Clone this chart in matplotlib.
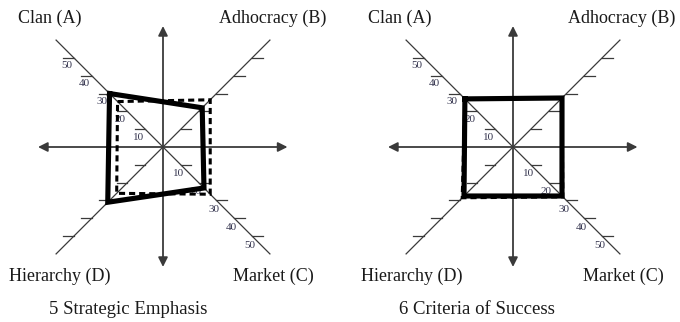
import numpy as np
import matplotlib
matplotlib.use("Agg")
import matplotlib.pyplot as plt

# ---- data ----
quadrants = ["Clan (A)", "Adhocracy (B)", "Market (C)", "Hierarchy (D)"]
angles_deg = [135, 45, -45, -135]          # direction of each quadrant axis
tick_values = [10, 20, 30, 40, 50]
tick_labels = ["10", "20", "30", "40", "50"]

titles = ["5 Strategic Emphasis", "6 Criteria of Success"]
# order: A, B, C, D
solid_emphasis = [30, 22, 23, 31]
dashed_emphasis = [25.5, 26.5, 26.5, 26]
solid_success = [27, 27.5, 27.5, 27.5]
dashed_success = [27, 27.5, 28, 28.5]

solid_sets = [solid_emphasis, solid_success]
dashed_sets = [dashed_emphasis, dashed_success]

# ---- styling ----
W, H = 680, 322
PX = 2.52               # pixels per value unit
AX_COL = "#3a3a3a"
NUM_COL = "#34344e"
SERIF = ["Liberation Serif", "DejaVu Serif"]

fig = plt.figure(figsize=(W / 100, H / 100), dpi=100)

centers_px = [(163, 147), (513, 147)]   # centers in pixel (from top-left)
panels = [(0, 340), (340, 680)]

ang = np.deg2rad(angles_deg)
ux, uy = np.cos(ang), np.sin(ang)

for p in range(2):
    x0, x1 = panels[p]
    cx, cy = centers_px[p]
    ax = fig.add_axes([x0 / W, 0, (x1 - x0) / W, 1])
    ax.set_xlim(-(cx - x0) / PX, (x1 - cx) / PX)
    ax.set_ylim(-(H - cy) / PX, cy / PX)
    ax.axis("off")

    # diagonals
    L = 60
    for k in range(2):
        ax.plot([ux[k] * L, ux[k + 2] * L], [uy[k] * L, uy[k + 2] * L],
                color=AX_COL, lw=0.9, zorder=1)
    # main arrows
    arrow = dict(arrowstyle="<|-|>", color=AX_COL, lw=1.3,
                 mutation_scale=14, shrinkA=0, shrinkB=0)
    ax.annotate("", xy=(49.4, 0), xytext=(-49.6, 0), arrowprops=arrow, zorder=1)
    ax.annotate("", xy=(0, 48), xytext=(0, -47.6), arrowprops=arrow, zorder=1)

    # ticks
    tl = 4.2
    for k in range(4):
        sgn = np.sign(ux[k])
        for v, lab in zip(tick_values, tick_labels):
            px, py = ux[k] * v, uy[k] * v
            ax.plot([px, px + sgn * tl], [py, py], color=AX_COL, lw=0.9, zorder=1)
            if k == 0:
                ax.text(px - 2.8, py - 3.2, lab, fontsize=8, color=NUM_COL,
                        ha="center", va="center", family=SERIF, zorder=2)
            elif k == 2:
                ax.text(px - 1.0, py - 3.6, lab, fontsize=8, color=NUM_COL,
                        ha="center", va="center", family=SERIF, zorder=2)

    # polygons
    d = np.array(dashed_sets[p])
    s = np.array(solid_sets[p])
    ax.plot(np.append(ux * d, ux[0] * d[0]), np.append(uy * d, uy[0] * d[0]),
            color="black", lw=2.2, ls=(0, (2.0, 1.3)), zorder=3,
            solid_joinstyle="miter", dash_joinstyle="miter")
    ax.plot(np.append(ux * s, ux[0] * s[0]), np.append(uy * s, uy[0] * s[0]),
            color="black", lw=3.7, zorder=4, solid_joinstyle="miter")

# category labels and titles (pixel positions from top-left)
label_pos = [
    [(50, 18), (273, 18), (273, 276), (60, 276)],
    [(400, 18), (622, 18), (623, 276), (412, 276)],
]
title_pos = [(128, 309), (477, 309)]
for p in range(2):
    for name, (lx, ly) in zip(quadrants, label_pos[p]):
        fig.text(lx / W, 1 - ly / H, name, fontsize=13, family=SERIF,
                 ha="center", va="center", color="#1a1a1a")
    tx, ty = title_pos[p]
    fig.text(tx / W, 1 - ty / H, titles[p], fontsize=13.5, family=SERIF,
             ha="center", va="center", color="#1a1a1a")

fig.savefig("out.png", dpi=100)
